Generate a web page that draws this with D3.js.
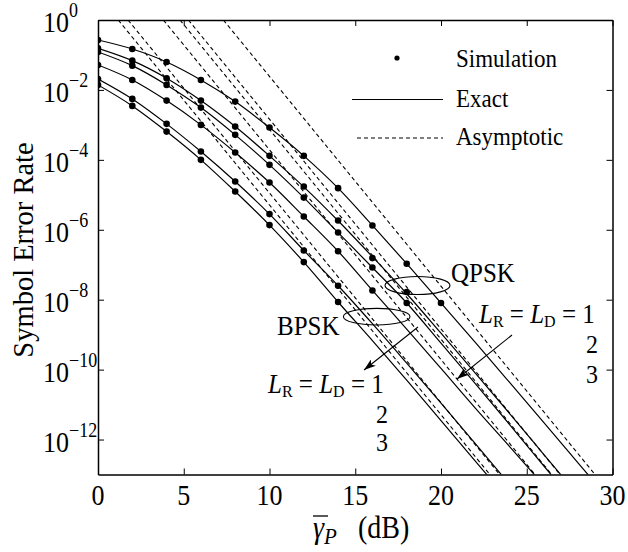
<!DOCTYPE html>
<html><head><meta charset="utf-8">
<script src="https://cdn.jsdelivr.net/npm/d3@7"></script>
<style>
body{margin:0;background:#fff}
text{font-family:"Liberation Serif","Times New Roman",serif;fill:#000}
</style>
</head><body>
<svg id="c" width="628" height="552"></svg>
<script>
// ---- data ----
const snrDb = [0,2,4,6,8,10,12,14,16,18,20,22,24,26,28,30];
const xTicks = [0,5,10,15,20,25,30];
const yTicks = [1,1e-2,1e-4,1e-6,1e-8,1e-10,1e-12];

// Exact SER curves (values at snrDb)
const exactQPSK1 = [2.68e-1,1.48e-1,6.31e-2,1.93e-2,4.63e-3,8.38e-4,1.30e-4,1.55e-5,1.33e-6,1.07e-7,8.05e-9,5.99e-10,4.31e-11,3.06e-12,2.13e-13,1.48e-14];
const exactQPSK2 = [1.55e-1,6.87e-2,2.16e-2,4.95e-3,8.94e-4,1.30e-4,1.69e-5,1.81e-6,1.69e-7,1.48e-8,1.10e-9,7.94e-11,5.53e-12,3.73e-13,2.51e-14];
const exactQPSK3 = [1.22e-1,4.95e-2,1.39e-2,3.12e-3,5.18e-4,7.20e-5,8.32e-6,8.32e-7,8.32e-8,8.05e-9,5.72e-10,3.98e-11,2.68e-12,1.75e-13,1.14e-14];
const exactBPSK1 = [5.18e-2,1.93e-2,4.95e-3,1.00e-3,1.62e-4,2.25e-5,2.40e-6,2.43e-7,1.84e-8,1.44e-9,1.08e-10,7.94e-12,6.31e-13,4.85e-14];
const exactBPSK2 = [2.06e-2,5.53e-3,1.07e-3,1.73e-4,2.40e-5,2.81e-6,2.56e-7,2.51e-8,2.06e-9,1.53e-10,1.10e-11,7.69e-13,5.18e-14];
const exactBPSK3 = [1.39e-2,3.49e-3,6.43e-4,1.00e-4,1.24e-5,1.36e-6,1.19e-7,8.60e-9,6.74e-10,5.01e-11,3.49e-12,2.43e-13,1.69e-14];

// Simulation points (values at snrDb)
const simQPSK1 = [2.68e-1,1.48e-1,6.31e-2,1.93e-2,4.63e-3,8.38e-4,1.30e-4,1.55e-5,1.33e-6,1.07e-7,8.05e-9];
const simQPSK2 = [1.55e-1,6.87e-2,2.16e-2,4.95e-3,8.94e-4,1.30e-4,1.73e-5,1.84e-6,1.55e-7,1.66e-8];
const simQPSK3 = [1.22e-1,4.95e-2,1.39e-2,3.12e-3,5.18e-4,7.20e-5,8.32e-6,8.32e-7,8.32e-8,8.05e-9];
const simBPSK1 = [5.18e-2,1.93e-2,4.95e-3,1.00e-3,1.62e-4,2.25e-5,2.40e-6,2.43e-7,1.84e-8];
const simBPSK2 = [2.06e-2,5.53e-3,1.07e-3,1.73e-4,2.40e-5,2.81e-6,2.56e-7,2.51e-8];
const simBPSK3 = [1.39e-2,3.49e-3,6.43e-4,1.00e-4,1.24e-5,1.36e-6,1.19e-7,8.60e-9];

// Asymptotic straight lines: dB where SER = 1e0 and where SER = 1e-13
const asymTopDb    = [7.31, 5.27, 4.78, 3.81, 1.75, 1.18];
const asymBottomDb = [28.98, 26.94, 26.45, 25.48, 23.42, 22.85];

const exactAll = [exactQPSK1, exactQPSK2, exactQPSK3, exactBPSK1, exactBPSK2, exactBPSK3];
const simAll = [simQPSK1, simQPSK2, simQPSK3, simBPSK1, simBPSK2, simBPSK3];

// ---- chart ----
const L = 98, R = 612.5, T = 20, B = 474.5;
const SY = 1.12; // vertical stretch of glyphs in the reference
const svg = d3.select("#c");
const x = d3.scaleLinear().domain([0,30]).range([L,R]);
const y = d3.scaleLog().domain([1,1e-13]).range([T,B]);

function txt(x0,y0,size,anchor,sy){
  return svg.append("text").attr("transform",`translate(${x0},${y0}) scale(1,${sy||SY})`)
    .attr("font-size",size).attr("text-anchor",anchor||"start");
}

const defs = svg.append("defs");
defs.append("clipPath").attr("id","clip")
  .append("rect").attr("x",L).attr("y",T).attr("width",R-L).attr("height",B-T);
defs.append("marker").attr("id","arr").attr("viewBox","0 0 12 8")
  .attr("refX",12).attr("refY",4).attr("markerWidth",12).attr("markerHeight",8)
  .attr("markerUnits","userSpaceOnUse").attr("orient","auto")
  .append("path").attr("d","M0,0 L12,4 L0,8 L3,4 Z").attr("fill","#000");

const plot = svg.append("g").attr("clip-path","url(#clip)");

// asymptotic dashed
asymTopDb.forEach((t,i)=>{
  const pts = [[t,1],[asymBottomDb[i],1e-13]];
  plot.append("path")
    .attr("d", d3.line().x(d=>x(d[0])).y(d=>y(d[1]))(pts))
    .attr("fill","none").attr("stroke","#000").attr("stroke-width",1.1)
    .attr("stroke-dasharray","4,3");
});

// exact solid
const line = d3.line().x((d,i)=>x(snrDb[i])).y(d=>y(d)).curve(d3.curveMonotoneX);
exactAll.forEach(arr=>{
  plot.append("path").attr("d", line(arr))
    .attr("fill","none").attr("stroke","#000").attr("stroke-width",1.2);
});

// simulation dots
simAll.forEach(arr=>{
  plot.selectAll(null).data(arr).enter().append("circle")
    .attr("cx",(d,i)=>x(snrDb[i])).attr("cy",d=>y(d)).attr("r",3.3).attr("fill","#000");
});

// axes
function styleAxis(g){
  g.selectAll("path.domain").attr("stroke","#000").attr("stroke-width",1.5);
  g.selectAll(".tick line").attr("stroke","#000").attr("stroke-width",1);
}
svg.append("g").attr("transform",`translate(0,${B})`)
  .call(d3.axisBottom(x).tickValues(xTicks).tickSizeInner(-6).tickSizeOuter(0).tickFormat(""))
  .call(styleAxis);
svg.append("g").attr("transform",`translate(0,${T})`)
  .call(d3.axisTop(x).tickValues(xTicks).tickSizeInner(-6).tickSizeOuter(0).tickFormat(""))
  .call(styleAxis);
svg.append("g").attr("transform",`translate(${L},0)`)
  .call(d3.axisLeft(y).tickValues(yTicks).tickSizeInner(-6).tickSizeOuter(0).tickFormat(""))
  .call(styleAxis);
svg.append("g").attr("transform",`translate(${R},0)`)
  .call(d3.axisRight(y).tickValues(yTicks).tickSizeInner(-6).tickSizeOuter(0).tickFormat(""))
  .call(styleAxis);

// x tick labels
xTicks.forEach(v=>{ txt(x(v),505,26,"middle").text(v); });

// y tick labels 10^k
yTicks.forEach(v=>{
  const e = Math.round(Math.log10(v));
  const t = txt(43,y(v)+12,26);
  t.append("tspan").text("10");
  t.append("tspan").attr("dy",-13).attr("font-size",18).text(e===0?"0":"\u2212"+(-e));
});

// axis titles
svg.append("text").attr("transform","translate(33,250) rotate(-90)")
  .attr("text-anchor","middle").attr("font-size",28.5).text("Symbol Error Rate");
const xt = txt(313,538,28);
xt.append("tspan").attr("font-style","italic").text("\u03B3");
xt.append("tspan").attr("font-style","italic").attr("font-size",21).attr("dy",5).text("P");
txt(358,538,28).text("(dB)");
svg.append("line").attr("x1",313).attr("x2",328).attr("y1",516).attr("y2",516)
  .attr("stroke","#000").attr("stroke-width",1.3);

// legend
svg.append("circle").attr("cx",397).attr("cy",58).attr("r",2.6).attr("fill","#000");
svg.append("line").attr("x1",352).attr("x2",443).attr("y1",99.5).attr("y2",99.5)
  .attr("stroke","#000").attr("stroke-width",1.2);
svg.append("line").attr("x1",357).attr("x2",443).attr("y1",138).attr("y2",138)
  .attr("stroke","#000").attr("stroke-width",1.1).attr("stroke-dasharray","4,3");
[["Simulation",67],["Exact",107],["Asymptotic",145]].forEach(([s,yy])=>{
  txt(456,yy,23).text(s);
});

// annotations
svg.append("ellipse").attr("cx",417.5).attr("cy",285.5).attr("rx",32.5).attr("ry",9)
  .attr("fill","none").attr("stroke","#000").attr("stroke-width",1.1);
svg.append("ellipse").attr("cx",376.7).attr("cy",316.7).attr("rx",33.3).attr("ry",8.3)
  .attr("fill","none").attr("stroke","#000").attr("stroke-width",1.1);
txt(451,282,25).text("QPSK");
txt(277,335,25).text("BPSK");
svg.append("line").attr("x1",418).attr("y1",327).attr("x2",364).attr("y2",370)
  .attr("stroke","#000").attr("stroke-width",1.1).attr("marker-end","url(#arr)");
svg.append("line").attr("x1",512).attr("y1",335).attr("x2",457).attr("y2",379)
  .attr("stroke","#000").attr("stroke-width",1.1).attr("marker-end","url(#arr)");

function lrld(x0,y0){
  const t = txt(x0,y0,25,"start",1.05);
  t.append("tspan").attr("font-style","italic").text("L");
  t.append("tspan").attr("font-size",16).attr("dy",4).text("R");
  t.append("tspan").attr("dy",-4).text("\u00A0=\u00A0");
  t.append("tspan").attr("font-style","italic").text("L");
  t.append("tspan").attr("font-size",16).attr("dy",4).text("D");
  t.append("tspan").attr("dy",-4).text("\u00A0=\u00A01");
}
lrld(479,323);
lrld(268,393);
[["2",598,353],["3",598,383],["2",388,423],["3",388,451]].forEach(([s,xx,yy])=>{
  txt(xx,yy,24,"end",1.05).text(s);
});
</script>
</body></html>
